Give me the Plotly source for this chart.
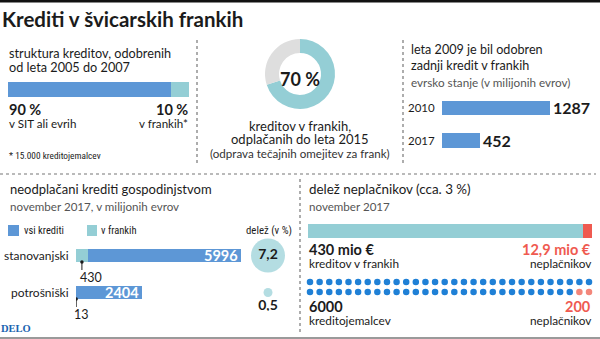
import math
import plotly.graph_objects as go

W, H = 600, 339

# ---------------- data ----------------
title = "Krediti v švicarskih frankih"

struct_labels = ["v SIT ali evrih", "v frankih*"]
struct_values = [90, 10]
struct_note = "* 15.000 kreditojemalcev"

donut_values = [70, 30]

stock_years = ["2010", "2017"]
stock_values = [1287, 452]

loan_types = ["stanovanjski", "potrošniški"]
loans_total = [5996, 2404]
loans_chf = [430, 13]
share_pct = [7.2, 0.5]

chf_amount = 430          # mio €
default_amount = 12.9     # mio €
borrowers_total = 6000
borrowers_default = 200
borrowers_per_dot = 100
dots_per_row = 30

# ---------------- style ----------------
BLUE = "#5d97d6"
TEAL = "#94ced5"
GRAY = "#dedede"
DOT_BLUE = "#1f80d6"
RED = "#ef5a50"
DOT_RED = "#f3867a"
TXT = "#1b1b1b"
SUB = "#555555"
FONT = "Lato"
COND = "Liberation Sans Narrow, Roboto Condensed, Lato"


def X(px):
    return px / W


def Y(py):
    return 1 - py / H


def dx(a, b):
    return [a / W, b / W]


def dy(a, b):
    return [1 - b / H, 1 - a / H]


def fmt(v):
    return f"{v:g}".replace(".", ",")


fig = go.Figure()
annotations = []
shapes = []


def ann(text, x, y, anchor="left", size=14, color=TXT, family=FONT, **kw):
    annotations.append(dict(text=text, x=X(x), y=Y(y), xref="paper", yref="paper",
                            xanchor=anchor, yanchor="middle", showarrow=False, borderpad=0,
                            font=dict(size=size, color=color, family=family), **kw))


NOHOVER = dict(hoverinfo="skip", showlegend=False)

# ---------- panel 1: structure bar ----------
for v, c in zip(struct_values, [BLUE, TEAL]):
    fig.add_trace(go.Bar(x=[v], y=[0], orientation="h", width=1, marker=dict(color=c, line=dict(width=0)),
                         xaxis="x", yaxis="y", **NOHOVER))
ann("struktura kreditov, odobrenih", 8, 53, size=12.7)
ann("od leta 2005 do 2007", 8, 66.5, size=12.7)
ann(f"<b>{struct_values[0]} %</b>", 8, 109, size=14.5)
ann(struct_labels[0], 8, 123, size=11.6)
ann(f"<b>{struct_values[1]} %</b>", 189, 109, anchor="right", size=14.5)
ann(struct_labels[1], 189, 123, anchor="right", size=11.6)
ann(struct_note, 8, 155, size=9.3, family=COND)

# ---------- panel 2: donut ----------
fig.add_trace(go.Pie(values=donut_values, marker=dict(colors=[TEAL, GRAY], line=dict(width=0)),
                     hole=0.6, sort=False, direction="clockwise", rotation=0,
                     textinfo="none", hoverinfo="skip", showlegend=False,
                     domain=dict(x=dx(265, 335), y=dy(39, 109))))
ann(f"<b>{donut_values[0]} %</b>", 300, 79, anchor="center", size=18)
ann("kreditov v frankih,", 300, 126, anchor="center", size=13)
ann("odplačanih do leta 2015", 300, 139, anchor="center", size=13)
ann("(odprava tečajnih omejitev za frank)", 300, 153, anchor="center", size=11.6, color="#333")

# ---------- panel 3: stock bars ----------
fig.add_trace(go.Bar(x=stock_values, y=[0, 1], orientation="h", width=0.46,
                     marker=dict(color=BLUE, line=dict(width=0)), xaxis="x2", yaxis="y2", **NOHOVER))
ann("leta 2009 je bil odobren", 410, 50, size=12.6)
ann("zadnji kredit v frankih", 410, 65, size=12.6)
ann("evrsko stanje (v milijonih evrov)", 410, 82, size=11.7, color=SUB)
for i, (yr, v) in enumerate(zip(stock_years, stock_values)):
    annotations.append(dict(text=yr, x=X(436), y=i, xref="paper", yref="y2", xanchor="right",
                            yanchor="middle", showarrow=False, borderpad=0,
                            font=dict(size=11.5, color=TXT, family=FONT)))
    annotations.append(dict(text=f"<b>{v}</b>", x=v, y=i, xref="x2", yref="y2", xanchor="left",
                            yanchor="middle", xshift=2, showarrow=False, borderpad=0,
                            font=dict(size=16, color=TXT, family=FONT)))

# ---------- panel 4: household loans ----------
BW = 13 / 37
fig.add_trace(go.Bar(x=loans_chf, y=[0, 1], orientation="h", width=BW,
                     marker=dict(color=TEAL, line=dict(width=0)), xaxis="x3", yaxis="y3", **NOHOVER))
fig.add_trace(go.Bar(x=[t - c for t, c in zip(loans_total, loans_chf)], y=[0, 1], orientation="h", width=BW,
                     marker=dict(color=BLUE, line=dict(width=0)), xaxis="x3", yaxis="y3", **NOHOVER))
# pins for the CHF part
fig.add_trace(go.Scatter(x=[c / 2 for c in loans_chf], y=[i + BW / 2 for i in range(2)], mode="markers",
                         marker=dict(size=3.5, color=TXT), xaxis="x3", yaxis="y3", **NOHOVER))
for i, (t, c, name) in enumerate(zip(loans_total, loans_chf, loan_types)):
    shapes.append(dict(type="line", xref="x3", yref="y3", x0=c / 2, x1=c / 2, ysizemode="pixel",
                       yanchor=i + BW / 2, y0=0, y1=-8, line=dict(color=TXT, width=1)))
    annotations.append(dict(text=str(c), x=c / 2, y=i + BW / 2, xref="x3", yref="y3", xanchor="left",
                            yanchor="middle", xshift=-3, yshift=-15, showarrow=False, borderpad=0,
                            font=dict(size=12.5, color=TXT, family=FONT)))
    annotations.append(dict(text=f"<b>{t}</b>", x=t, y=i, xref="x3", yref="y3", xanchor="right",
                            yanchor="middle", xshift=-2, showarrow=False, borderpad=0,
                            font=dict(size=14.5, color="white", family=FONT)))
    annotations.append(dict(text=name, x=X(70), y=i, xref="paper", yref="y3", xanchor="right",
                            yanchor="middle", showarrow=False, borderpad=0,
                            font=dict(size=12, color=TXT, family=FONT)))
# share circles
k = 34 / math.sqrt(max(share_pct))
fig.add_trace(go.Scatter(x=[0.5, 0.5], y=[0, 1], mode="markers+text",
                         marker=dict(size=[k * math.sqrt(v) for v in share_pct], color=TEAL, line=dict(width=0)),
                         text=[f"<b>{fmt(v)}</b>" for v in share_pct],
                         textposition=["middle center", "bottom center"],
                         textfont=dict(size=14, color=TXT, family=FONT),
                         xaxis="x4", yaxis="y3", **NOHOVER))
ann("neodplačani krediti gospodinjstvom", 9, 189, size=13)
ann("november 2017, v milijonih evrov", 9, 206, size=11.6, color=SUB)
shapes.append(dict(type="rect", xref="paper", yref="paper", x0=X(8), x1=X(19), y0=Y(236), y1=Y(225),
                   fillcolor=BLUE, line=dict(width=0)))
shapes.append(dict(type="rect", xref="paper", yref="paper", x0=X(87), x1=X(97), y0=Y(236), y1=Y(225),
                   fillcolor=TEAL, line=dict(width=0)))
ann("vsi krediti", 23, 230.5, size=10.5, family=COND)
ann("v frankih", 100, 230.5, size=10.5, family=COND)
ann("delež (v %)", 269, 230.5, anchor="center", size=10.8, family=COND)
ann("<b>DELO</b>", 0, 328, size=10.5, color="#1a64b0", family="Liberation Serif")

# ---------- panel 5: defaulters ----------
fig.add_trace(go.Bar(x=[chf_amount - default_amount], y=[0], orientation="h", width=1,
                     marker=dict(color=TEAL, line=dict(width=0)), xaxis="x5", yaxis="y5", **NOHOVER))
fig.add_trace(go.Bar(x=[default_amount], y=[0], orientation="h", width=1,
                     marker=dict(color=RED, line=dict(width=0)), xaxis="x5", yaxis="y5", **NOHOVER))
n_dots = borrowers_total // borrowers_per_dot
n_red = borrowers_default // borrowers_per_dot
dot_x = [i % dots_per_row for i in range(n_dots)]
dot_y = [i // dots_per_row for i in range(n_dots)]
dot_c = [DOT_RED if i >= n_dots - n_red else DOT_BLUE for i in range(n_dots)]
fig.add_trace(go.Scatter(x=dot_x, y=dot_y, mode="markers", marker=dict(size=6.5, color=dot_c),
                         xaxis="x6", yaxis="y6", **NOHOVER))
ann("delež neplačnikov (cca. 3 %)", 308, 189, size=13.4)
ann("november 2017", 308, 206, size=11.6, color=SUB)
ann(f"<b>{fmt(chf_amount)} mio €</b>", 308, 249, size=14.5)
ann("kreditov v frankih", 308, 263, size=11.8)
ann(f"<b>{fmt(default_amount)} mio €</b>", 592, 249, anchor="right", size=14.5, color=RED)
ann("neplačnikov", 592, 263, anchor="right", size=11.8)
ann(f"<b>{borrowers_total}</b>", 308, 306, size=14.5)
ann("kreditojemalcev", 308, 320, size=11.8)
ann(f"<b>{borrowers_default}</b>", 592, 306, anchor="right", size=14.5, color=RED)
ann("neplačnikov", 592, 320, anchor="right", size=11.8)

# ---------- title & separators ----------
ann(f"<b>{title}</b>", 1, 19, size=20.5)
shapes.append(dict(type="rect", xref="paper", yref="paper", x0=0, x1=1, y0=Y(2.5), y1=1,
                   fillcolor="#111", line=dict(width=0)))
DOT = dict(color="#777", width=1.2, dash="dot")
for x in (197, 403):
    shapes.append(dict(type="line", xref="paper", yref="paper", x0=X(x), x1=X(x), y0=Y(40), y1=Y(163), line=DOT))
shapes.append(dict(type="line", xref="paper", yref="paper", x0=0, x1=X(596), y0=Y(174), y1=Y(174), line=DOT))
shapes.append(dict(type="line", xref="paper", yref="paper", x0=X(300), x1=X(300), y0=Y(179), y1=Y(333), line=DOT))
shapes.append(dict(type="line", xref="paper", yref="paper", x0=0, x1=1, y0=Y(338), y1=Y(338),
                   line=dict(color="#9a9a9a", width=2)))

AX = dict(visible=False, fixedrange=True, showgrid=False, zeroline=False)
fig.update_layout(
    width=W, height=H, margin=dict(l=0, r=0, t=0, b=0),
    paper_bgcolor="white", plot_bgcolor="rgba(0,0,0,0)",
    font=dict(family=FONT, color=TXT), barmode="stack", showlegend=False,
    xaxis=dict(AX, domain=dx(8, 189), range=[0, sum(struct_values)], anchor="y"),
    yaxis=dict(AX, domain=dy(82, 97), range=[-0.5, 0.5], anchor="x"),
    xaxis2=dict(AX, domain=dx(442, 550), range=[0, max(stock_values)], anchor="y2"),
    yaxis2=dict(AX, domain=dy(91.75, 156.75), range=[1.5, -0.5], anchor="x2"),
    xaxis3=dict(AX, domain=dx(76, 241), range=[0, max(loans_total)], anchor="y3"),
    yaxis3=dict(AX, domain=dy(237, 311), range=[1.5, -0.5], anchor="x3"),
    xaxis4=dict(AX, domain=dx(250, 286), range=[0, 1], anchor="y3"),
    xaxis5=dict(AX, domain=dx(308, 592), range=[0, chf_amount], anchor="y5"),
    yaxis5=dict(AX, domain=dy(224, 238), range=[-0.5, 0.5], anchor="x5"),
    xaxis6=dict(AX, domain=dx(310 - 4.81, 589 + 4.81), range=[-0.5, dots_per_row - 0.5], anchor="y6"),
    yaxis6=dict(AX, domain=dy(277, 297), range=[1.5, -0.5], anchor="x6"),
    annotations=annotations, shapes=shapes,
)

fig.write_html("out.html")
